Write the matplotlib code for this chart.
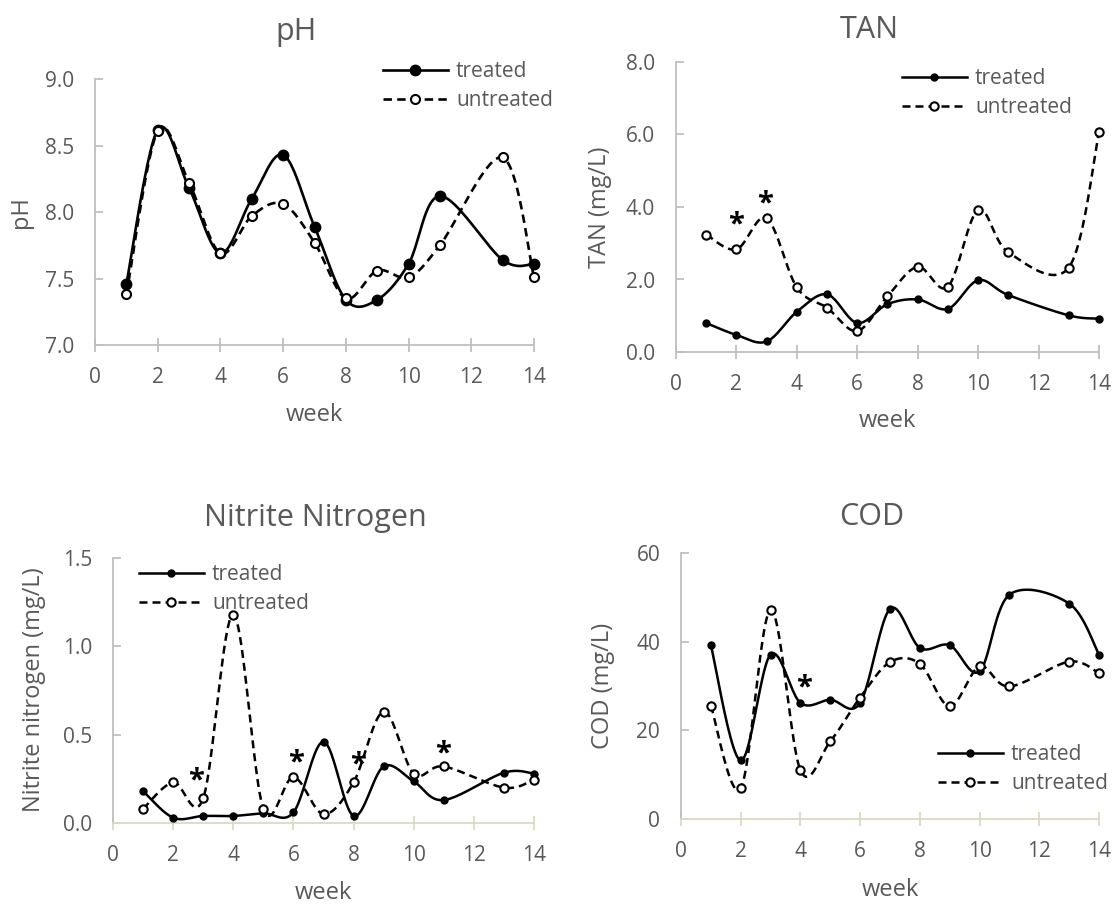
"""
週ごとの水質 (pH, TAN, 亜硝酸態窒素, COD) を処理区/無処理区で比較する 2x2 の図。
Excel の平滑化線に近い見た目にするため、線だけベジェ曲線で描く。
"""

import numpy as np
import matplotlib
matplotlib.use("Agg")
import matplotlib.pyplot as plt

plt.rcParams["font.family"] = ["Open Sans", "DejaVu Sans"]

TEXT = "#595959"
GRAY = "#BFBFBF"
BEIGE = "#DDD9C3"

# ---- データ ----
weeks = [1, 2, 3, 4, 5, 6, 7, 8, 9, 10, 11, 13, 14]

ph_treated = [7.46, 8.62, 8.18, 7.69, 8.10, 8.43, 7.89, 7.34, 7.34, 7.61, 8.12, 7.64, 7.61]
ph_untreated = [7.38, 8.61, 8.22, 7.69, 7.97, 8.06, 7.77, 7.35, 7.56, 7.51, 7.75, 8.41, 7.51]

tan_treated = [0.80, 0.47, 0.29, 1.11, 1.59, 0.80, 1.32, 1.45, 1.19, 1.98, 1.57, 1.01, 0.92]
tan_untreated = [3.24, 2.83, 3.69, 1.78, 1.22, 0.58, 1.54, 2.35, 1.80, 3.92, 2.75, 2.33, 6.07]

no2_treated = [0.18, 0.03, 0.04, 0.04, 0.055, 0.06, 0.46, 0.04, 0.32, 0.235, 0.13, 0.285, 0.28]
no2_untreated = [0.08, 0.23, 0.14, 1.18, 0.08, 0.26, 0.05, 0.23, 0.63, 0.28, 0.32, 0.20, 0.245]

cod_treated = [39.2, 13.2, 37.1, 26.2, 26.9, 26.2, 47.4, 38.6, 39.2, 33.3, 50.6, 48.6, 37.1]
cod_untreated = [25.6, 6.9, 47.2, 11.0, 17.5, 27.4, 35.4, 35.0, 25.4, 34.4, 29.9, 35.5, 32.9]

# 有意差の印 (*) の位置 (week, 値)
tan_stars = [(2.0, 3.5), (2.95, 4.08)]
no2_stars = [(2.75, 0.24), (6.08, 0.34), (8.15, 0.33), (10.98, 0.39)]
cod_stars = [(4.12, 29.5)]


def smooth(x, y, n=24):
    """Excel の平滑線に近い Catmull-Rom 型ベジェ曲線の点列を返す。"""
    pts = np.column_stack([x, y]).astype(float)
    P = np.vstack([pts[0], pts, pts[-1]])
    t = np.linspace(0, 1, n)[:, None]
    out = []
    for i in range(1, len(P) - 2):
        p0, p1, p2, p3 = P[i - 1], P[i], P[i + 1], P[i + 2]
        c1 = p1 + (p2 - p0) / 6
        c2 = p2 - (p3 - p1) / 6
        seg = (1 - t) ** 3 * p1 + 3 * (1 - t) ** 2 * t * c1 + 3 * (1 - t) * t ** 2 * c2 + t ** 3 * p2
        out.append(seg if i == 1 else seg[1:])
    s = np.vstack(out)
    return s[:, 0], s[:, 1]


W, H = 1115, 905
fig = plt.figure(figsize=(W / 100, H / 100), dpi=100)

DASH = (0, (3.2, 2.0))


def make_axes(left, right, top, bottom):
    return fig.add_axes([left / W, 1 - bottom / H, (right - left) / W, (bottom - top) / H])


def draw_panel(ax, treated, untreated, ylim, yticks, fmt, big=False, xcolor=GRAY):
    lw = 1.9 if big else 1.8
    ms_t = 7.5 if big else 5
    ms_u = 6.5 if big else 6
    xs, ys = smooth(weeks, treated)
    ax.plot(xs, ys, color="black", lw=lw, solid_capstyle="round", clip_on=False)
    xs, ys = smooth(weeks, untreated)
    ax.plot(xs, ys, color="black", lw=lw, linestyle=DASH, clip_on=False)
    ax.plot(weeks, treated, "o", color="black", ms=ms_t, zorder=3, clip_on=False)
    ax.plot(weeks, untreated, "o", mfc="white", mec="black", mew=1.5, ms=ms_u, zorder=3, clip_on=False)

    # 凡例用のダミー
    h1, = ax.plot([], [], "-o", color="black", lw=lw, ms=ms_t, label="treated")
    h2, = ax.plot([], [], "o", linestyle=DASH, color="black", lw=lw,
                  mfc="white", mec="black", mew=1.5, ms=ms_u, label="untreated")

    ax.set_xlim(0, 14)
    ax.set_xticks(range(0, 15, 2))
    ax.set_ylim(*ylim)
    ax.set_yticks(yticks)
    ax.set_yticklabels([fmt.format(v) for v in yticks])
    for s in ["top", "right"]:
        ax.spines[s].set_visible(False)
    ax.spines["left"].set_color(GRAY)
    ax.spines["bottom"].set_color(xcolor)
    ax.spines["left"].set_linewidth(1.3)
    ax.spines["bottom"].set_linewidth(1.3)
    ax.tick_params(axis="x", direction="inout", length=10, width=1.3, color=xcolor,
                   labelsize=15, labelcolor=TEXT, pad=11)
    ax.tick_params(axis="y", direction="in", length=6, width=1.3, color=GRAY,
                   labelsize=15, labelcolor=TEXT, pad=15)
    ax.patch.set_visible(False)
    return [h1, h2]


def add_legend(ax, handles, x_px, top_px):
    ax.legend(handles=handles, loc="upper left", bbox_to_anchor=(x_px / W, 1 - top_px / H),
              bbox_transform=fig.transFigure, frameon=False, fontsize=15, borderpad=0,
              borderaxespad=0, handlelength=3.1, handletextpad=0.4, labelspacing=0.38,
              labelcolor=TEXT)


def add_stars(ax, stars):
    for x, y in stars:
        ax.text(x, y, "*", ha="center", va="center", fontsize=21, fontweight="bold", color="black")


# pH
ax1 = make_axes(95, 534, 79, 345)
hs = draw_panel(ax1, ph_treated, ph_untreated, (7.0, 9.0), [7.0, 7.5, 8.0, 8.5, 9.0], "{:.1f}", big=True)
add_legend(ax1, hs, 383, 61)
fig.text(296 / W, 1 - 40 / H, "pH", ha="center", va="baseline", fontsize=22, color=TEXT)
fig.text(21 / W, 1 - 212 / H, "pH", ha="center", va="center", rotation=90, fontsize=17, color=TEXT)
fig.text(314 / W, 1 - 415 / H, "week", ha="center", va="center", fontsize=17, color=TEXT)

# TAN
ax2 = make_axes(676, 1099, 62, 352)
hs = draw_panel(ax2, tan_treated, tan_untreated, (0, 8), [0, 2, 4, 6, 8], "{:.1f}")
add_stars(ax2, tan_stars)
add_legend(ax2, hs, 902, 68)
fig.text(869 / W, 1 - 38 / H, "TAN", ha="center", va="baseline", fontsize=22, color=TEXT)
fig.text(600 / W, 1 - 207 / H, "TAN (mg/L)", ha="center", va="center", rotation=90, fontsize=17, color=TEXT)
fig.text(887 / W, 1 - 421 / H, "week", ha="center", va="center", fontsize=17, color=TEXT)

# 亜硝酸態窒素
ax3 = make_axes(113, 534, 558, 823)
hs = draw_panel(ax3, no2_treated, no2_untreated, (0, 1.5), [0.0, 0.5, 1.0, 1.5], "{:.1f}", xcolor=BEIGE)
add_stars(ax3, no2_stars)
add_legend(ax3, hs, 139, 564)
fig.text(315 / W, 1 - 526 / H, "Nitrite Nitrogen", ha="center", va="baseline", fontsize=22, color=TEXT)
fig.text(34 / W, 1 - 690 / H, "Nitrite nitrogen (mg/L)", ha="center", va="center", rotation=90,
         fontsize=17, color=TEXT)
fig.text(323 / W, 1 - 893 / H, "week", ha="center", va="center", fontsize=17, color=TEXT)

# COD
ax4 = make_axes(681, 1099, 553, 819)
hs = draw_panel(ax4, cod_treated, cod_untreated, (0, 60), [0, 20, 40, 60], "{:.0f}", xcolor=BEIGE)
add_stars(ax4, cod_stars)
add_legend(ax4, hs, 938, 744)
fig.text(872 / W, 1 - 525 / H, "COD", ha="center", va="baseline", fontsize=22, color=TEXT)
fig.text(603 / W, 1 - 686 / H, "COD (mg/L)", ha="center", va="center", rotation=90, fontsize=17, color=TEXT)
fig.text(890 / W, 1 - 890 / H, "week", ha="center", va="center", fontsize=17, color=TEXT)

fig.savefig("out.png", dpi=100, facecolor="white")
